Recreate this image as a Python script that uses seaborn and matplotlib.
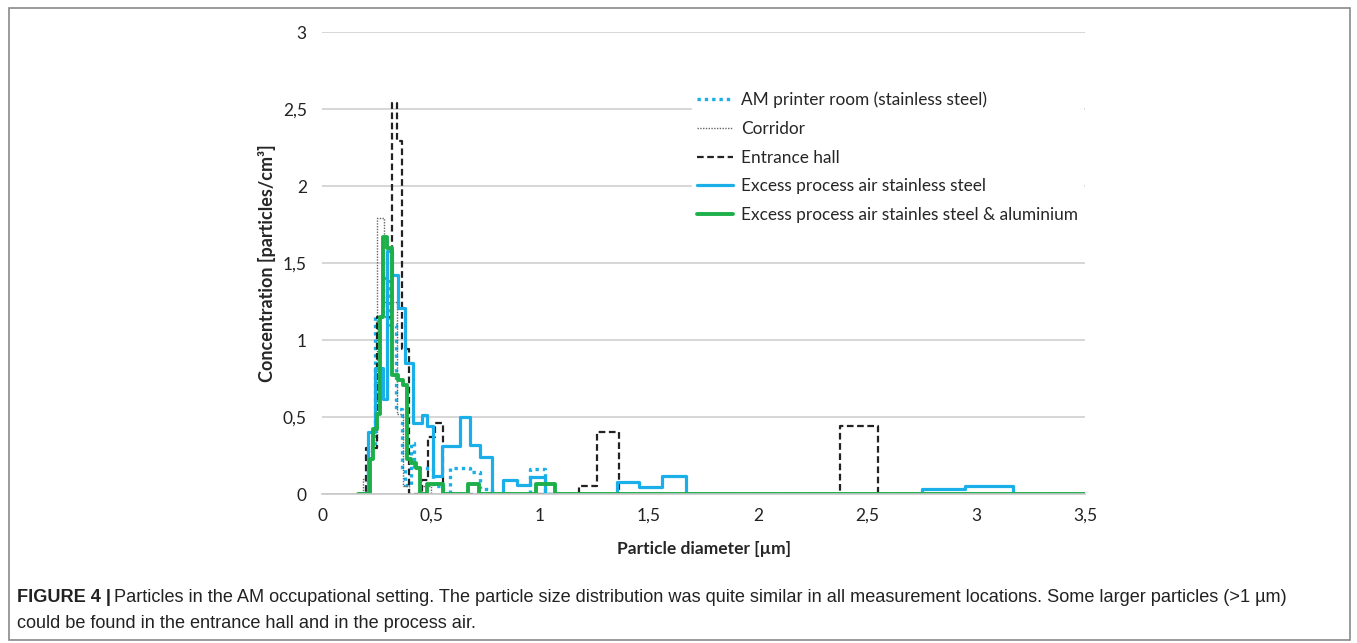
import numpy as np
import pandas as pd
import seaborn as sns
import matplotlib.pyplot as plt
from matplotlib.patches import Rectangle

# step data (bin left edges, concentration in particles/cm3)
am_x = [0.165, 0.21, 0.243, 0.28, 0.31, 0.34, 0.367, 0.38, 0.41, 0.42, 0.51, 0.555, 0.587, 0.68, 0.725, 0.78, 0.954, 1.023, 3.5]
am_y = [0, 0.3, 1.15, 1.4, 1.1, 0.55, 0.16, 0.06, 0.33, 0.17, 0.05, 0, 0.17, 0.14, 0.03, 0, 0.16, 0, 0]

cor_x = [0.165, 0.19, 0.215, 0.25, 0.285, 0.345, 0.37, 0.40, 0.45, 0.50, 3.5]
cor_y = [0, 0.1, 0.35, 1.79, 1.25, 0.52, 0.05, 0, 0.05, 0, 0]

ent_x = [0.165, 0.20, 0.25, 0.32, 0.345, 0.367, 0.40, 0.458, 0.487, 0.518, 0.555, 1.18, 1.26, 1.36, 2.376, 2.55, 3.5]
ent_y = [0, 0.3, 1.15, 2.54, 2.29, 0.94, 0, 0.09, 0.37, 0.46, 0, 0.05, 0.40, 0, 0.44, 0, 0]

ss_x = [0.165, 0.21, 0.243, 0.28, 0.30, 0.32, 0.35, 0.38, 0.418, 0.458, 0.48, 0.51, 0.55, 0.633, 0.68, 0.725,
        0.78, 0.83, 0.894, 0.954, 1.023, 1.353, 1.455, 1.56, 1.67, 2.75, 2.95, 3.17, 3.5]
ss_y = [0, 0.4, 0.82, 0.62, 1.58, 1.42, 1.21, 0.85, 0.46, 0.51, 0.44, 0.12, 0.31, 0.5, 0.32, 0.24,
        0, 0.09, 0.06, 0.11, 0, 0.08, 0.045, 0.12, 0, 0.03, 0.05, 0, 0]

al_x = [0.165, 0.22, 0.235, 0.25, 0.265, 0.28, 0.30, 0.32, 0.35, 0.37, 0.39, 0.41, 0.43, 0.45, 0.48, 0.555,
        0.67, 0.72, 0.98, 1.07, 3.5]
al_y = [0, 0.23, 0.42, 0.52, 1.15, 1.67, 1.6, 0.77, 0.74, 0.71, 0.23, 0.2, 0.17, 0, 0.065, 0,
        0.065, 0, 0.065, 0, 0]

labels = ["AM printer room (stainless steel)", "Corridor", "Entrance hall",
          "Excess process air stainless steel", "Excess process air stainles steel & aluminium"]

x_ticks = [0, 0.5, 1, 1.5, 2, 2.5, 3, 3.5]
y_ticks = [0, 0.5, 1, 1.5, 2, 2.5, 3]

sns.set_style("white")
plt.rcParams['font.family'] = ['Lato', 'DejaVu Sans']

fig = plt.figure(figsize=(13.57, 6.43), dpi=100)
ax = fig.add_axes([0.2373, 0.2317, 0.5623, 0.7185])

blue = "#1AAFE8"
green = "#1DAF4A"
series = [
    (am_x, am_y, labels[0], dict(color=blue, linestyle=(0, (1, 1.2)), linewidth=2.4)),
    (cor_x, cor_y, labels[1], dict(color="#666666", linestyle=(0, (1, 1)), linewidth=1.0)),
    (ent_x, ent_y, labels[2], dict(color="#222222", linestyle=(0, (3, 1.6)), linewidth=1.6)),
    (ss_x, ss_y, labels[3], dict(color=blue, linestyle="-", linewidth=2.3)),
    (al_x, al_y, labels[4], dict(color=green, linestyle="-", linewidth=2.8)),
]
for xs, ys, lab, kw in series:
    df = pd.DataFrame({"d": xs, "c": ys})
    sns.lineplot(data=df, x="d", y="c", ax=ax, drawstyle="steps-post", label=lab,
                 sort=False, estimator=None, **kw)

ax.set_xlim(0, 3.5)
ax.set_ylim(0, 3)
ax.set_xticks(x_ticks)
ax.set_yticks(y_ticks)
fmt = lambda v: ("%g" % v).replace(".", ",")
ax.set_xticklabels([fmt(v) for v in x_ticks])
ax.set_yticklabels([fmt(v) for v in y_ticks])
ax.tick_params(axis="both", length=0, labelsize=12.5, colors="#222222")
ax.tick_params(axis="x", pad=10)
ax.tick_params(axis="y", pad=11)
ax.yaxis.grid(True, color="#d0d0d0", linewidth=1.2)
ax.set_axisbelow(True)
for s in ["left", "right", "top"]:
    ax.spines[s].set_visible(False)
ax.spines["bottom"].set_color("#c8c8c8")
ax.spines["bottom"].set_linewidth(1.2)

ax.set_xlabel("Particle diameter [µm]", fontsize=12.5, fontweight="bold", labelpad=12)
ax.set_ylabel("Concentration [particles/cm³]", fontsize=13, fontweight="bold", labelpad=5)

leg = ax.legend(loc="upper left", bbox_to_anchor=(0.485, 0.882), frameon=True, fontsize=12.4,
                handlelength=2.05, handletextpad=0.47, labelspacing=0.74, borderpad=0.3, borderaxespad=0,
                fancybox=False, framealpha=1)
leg.get_frame().set_edgecolor("white")

# figure border
fig.patches.append(Rectangle((0.0066, 0.0047), 0.9882, 0.983, transform=fig.transFigure,
                             fill=False, edgecolor="#8a8a8a", linewidth=1.2))

cap_font = ['Liberation Sans Narrow', 'Liberation Sans', 'DejaVu Sans']
t1 = fig.text(17 / 1357, 1 - 597 / 643, "FIGURE 4 |", fontsize=13.1, fontweight="bold",
              family=cap_font, va="center", color="#222222")
fig.canvas.draw()
bb = t1.get_window_extent()
fig.text((bb.x1 + 3) / 1357, 1 - 597 / 643,
         "Particles in the AM occupational setting. The particle size distribution was quite similar in all "
         "measurement locations. Some larger particles (>1 µm)",
         fontsize=13.1, family=cap_font, va="center", color="#222222")
fig.text(17 / 1357, 1 - 624 / 643, "could be found in the entrance hall and in the process air.",
         fontsize=13.1, family=cap_font, va="center", color="#222222")

fig.savefig("out.png", dpi=100)
